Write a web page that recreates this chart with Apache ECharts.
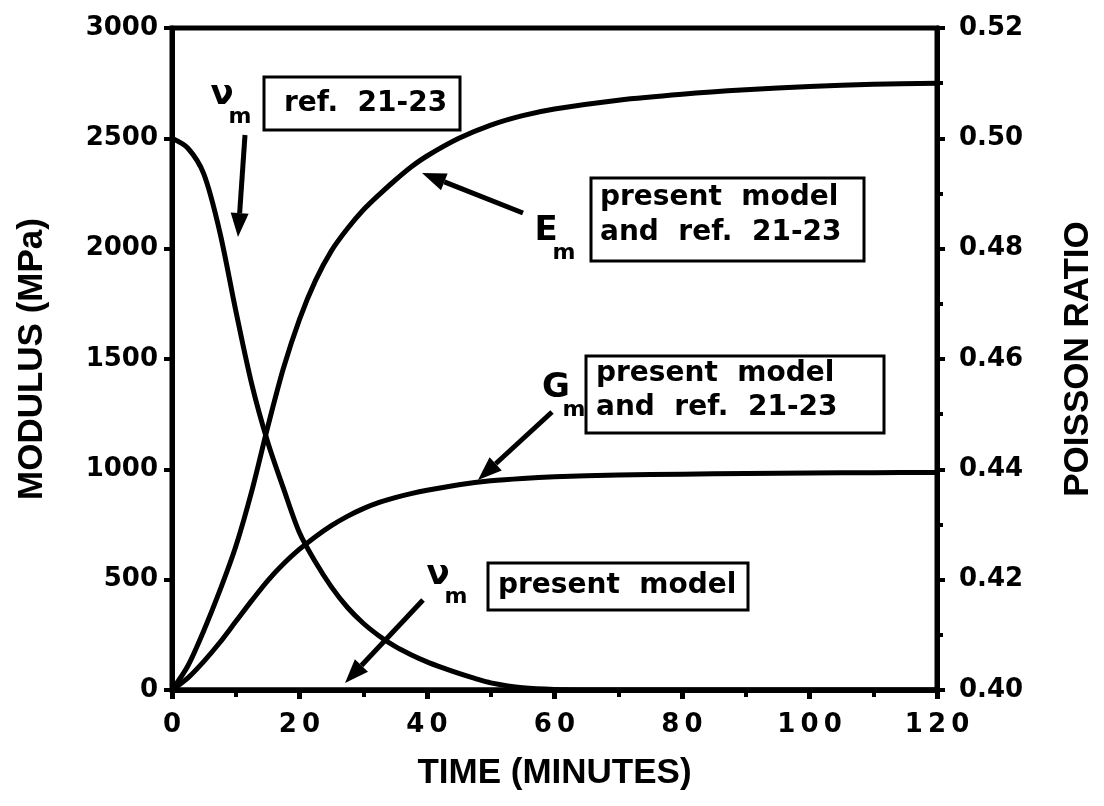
<!DOCTYPE html>
<html>
<head>
    <meta http-equiv="Content-Type" content="text/html; charset=utf-8" />
    <title>Modulus and Poisson ratio vs time</title>
    <script src="https://cdn.jsdelivr.net/npm/echarts@6/dist/echarts.min.js"></script>
</head>
<body style="margin:0;padding:0;background:#ffffff;">
    <div id="main" style="width:1104px;height:806px;"></div>
    <script type="text/javascript">
        /*************************************************************
        * data
        *************************************************************/
        var timeE = [0, 2.5, 5, 7.5, 10, 12.5, 15, 17.5, 20, 22.5, 25, 27.5, 30, 32.5, 35, 37.5, 40, 45, 50, 55, 60, 70, 80, 90, 100, 110, 120];
        var modulusE = [0, 110, 270, 450, 650, 900, 1190, 1460, 1680, 1855, 1990, 2090, 2175, 2245, 2310, 2370, 2420, 2500, 2560, 2603, 2633, 2673, 2700, 2720, 2735, 2745, 2750];

        var timeG = [0, 2.5, 5, 7.5, 10, 12.5, 15, 17.5, 20, 22.5, 25, 27.5, 30, 32.5, 35, 37.5, 40, 45, 50, 55, 60, 70, 80, 90, 100, 110, 120];
        var modulusG = [0, 55, 130, 215, 310, 405, 495, 572, 638, 695, 745, 787, 822, 850, 872, 890, 905, 930, 948, 959, 966, 974, 978, 981, 983, 985, 986];

        var timeNu = [0, 2.5, 5, 7.5, 10, 12.5, 15, 17.5, 20, 22.5, 25, 27.5, 30, 32.5, 35, 37.5, 40, 42.5, 45, 47.5, 50, 55, 60, 70, 120];
        var poissonRef = [0.5000, 0.4982, 0.4935, 0.4830, 0.4688, 0.4555, 0.4450, 0.4365, 0.4285, 0.4232, 0.4187, 0.4150, 0.4121, 0.4098, 0.4079, 0.4064, 0.4051, 0.4040, 0.4030, 0.4021, 0.4013, 0.4004, 0.4001, 0.4000, 0.4000];

        var timeNuModel = [0, 120];
        var poissonModel = [0.40, 0.40];

        var xTicks = [0, 120, 20];
        var yLeftTicks = [0, 3000, 500];
        var yRightTicks = [0.40, 0.52, 0.02];

        function pairs(xs, ys) {
            var out = [];
            for (var i = 0; i < xs.length; i++) out.push([xs[i], ys[i]]);
            return out;
        }

        /*************************************************************
        * annotations
        *************************************************************/
        var TXT = 'DejaVu Sans';
        var graphics = [];

        function arrow(x1, y1, x2, y2) {
            var dx = x2 - x1, dy = y2 - y1;
            var len = Math.sqrt(dx * dx + dy * dy);
            dx /= len; dy /= len;
            var bx = x2 - dx * 24, by = y2 - dy * 24;
            graphics.push({ type: 'line', z: 100, shape: { x1: x1, y1: y1, x2: bx, y2: by }, style: { stroke: '#000', lineWidth: 5 } });
            graphics.push({ type: 'polygon', z: 100, shape: { points: [[x2, y2], [bx - dy * 9, by + dx * 9], [bx + dy * 9, by - dx * 9]] }, style: { fill: '#000' } });
        }
        function box(x, y, w, h) {
            graphics.push({ type: 'rect', z: 100, shape: { x: x, y: y, width: w, height: h }, style: { fill: '#fff', stroke: '#000', lineWidth: 3 } });
        }
        function label(str, x, y, size, align) {
            graphics.push({ type: 'text', z: 101, style: { text: str, x: x, y: y, fill: '#000', fontSize: size, fontWeight: 'bold', fontFamily: TXT, align: align || 'left', verticalAlign: 'middle' } });
        }
        function symbol(main, x, y) {
            label(main, x, y, 34, 'center');
            label('m', x + 18, y + 22, 22, 'center');
        }

        // nu_m  ref. 21-23
        symbol('\u03bd', 222, 95);
        box(264, 77, 196, 53);
        label('ref.  21-23', 284, 104, 28);
        arrow(245, 135, 238, 237);

        // E_m
        symbol('E', 546, 231);
        box(591, 178, 273, 83);
        label('present  model', 600, 198, 28);
        label('and  ref.  21-23', 600, 233, 28);
        arrow(523, 213, 422, 173);

        // G_m
        symbol('G', 556, 388);
        box(586, 356, 298, 77);
        label('present  model', 596, 374, 28);
        label('and  ref.  21-23', 596, 408, 28);
        arrow(552, 412, 478, 480);

        // nu_m present model
        symbol('\u03bd', 438, 575);
        box(488, 563, 260, 47);
        label('present  model', 498, 586, 28);
        arrow(423, 600, 345, 683);

        /*************************************************************
        * chart
        *************************************************************/
        var chart = echarts.init(document.getElementById('main'));
        var tickLabel = { color: '#000', fontFamily: TXT, fontWeight: 'bold', fontSize: 26 };
        var nameStyle = { color: '#000', fontFamily: 'Liberation Sans', fontWeight: 'bold', fontSize: 35 };
        var lineSeries = { type: 'line', showSymbol: false, smooth: 0.3, lineStyle: { color: '#000', width: 5 }, itemStyle: { color: '#000' } };

        var option = {
            backgroundColor: '#fff',
            animation: false,
            grid: { left: 172, right: 164, top: 28, bottom: 116, show: true, borderColor: '#000', borderWidth: 5, backgroundColor: 'transparent' },
            xAxis: {
                type: 'value', min: xTicks[0], max: xTicks[1], interval: xTicks[2],
                name: 'TIME (MINUTES)', nameLocation: 'middle', nameGap: 66, nameTextStyle: nameStyle,
                axisLine: { lineStyle: { color: '#000', width: 5 } },
                axisTick: { length: 9, lineStyle: { color: '#000', width: 5 } },
                minorTick: { show: true, splitNumber: 2, length: 7, lineStyle: { color: '#000', width: 4 } },
                splitLine: { show: false },
                axisLabel: Object.assign({ margin: 22, formatter: function (v) { return String(v).split('').join('\u2009'); } }, tickLabel)
            },
            yAxis: [
                {
                    type: 'value', min: yLeftTicks[0], max: yLeftTicks[1], interval: yLeftTicks[2],
                    name: 'MODULUS (MPa)', nameLocation: 'middle', nameGap: 122, nameRotate: 90, nameTextStyle: nameStyle,
                    axisLine: { show: true, lineStyle: { color: '#000', width: 5 } },
                    axisTick: { show: true, length: 8, lineStyle: { color: '#000', width: 4 } },
                    splitLine: { show: false },
                    axisLabel: Object.assign({ margin: 14, formatter: function (v) { return String(v); } }, tickLabel)
                },
                {
                    type: 'value', position: 'right', min: yRightTicks[0], max: yRightTicks[1], interval: yRightTicks[2],
                    name: 'POISSON RATIO', nameLocation: 'middle', nameGap: 124, nameRotate: 90, nameTextStyle: nameStyle,
                    axisLine: { show: true, lineStyle: { color: '#000', width: 5 } },
                    axisTick: { show: true, length: 8, lineStyle: { color: '#000', width: 4 } },
                    minorTick: { show: true, splitNumber: 2, length: 6, lineStyle: { color: '#000', width: 4 } },
                    splitLine: { show: false },
                    axisLabel: Object.assign({ margin: 22, formatter: function (v) { return v.toFixed(2); } }, tickLabel)
                }
            ],
            series: [
                Object.assign({ name: 'E_m', yAxisIndex: 0, data: pairs(timeE, modulusE) }, lineSeries),
                Object.assign({ name: 'G_m', yAxisIndex: 0, data: pairs(timeG, modulusG) }, lineSeries),
                Object.assign({ name: 'nu_m ref. 21-23', yAxisIndex: 1, data: pairs(timeNu, poissonRef) }, lineSeries),
                Object.assign({ name: 'nu_m present model', yAxisIndex: 1, data: pairs(timeNuModel, poissonModel) }, lineSeries)
            ],
            graphic: graphics
        };
        chart.setOption(option);
    </script>
</body>
</html>
